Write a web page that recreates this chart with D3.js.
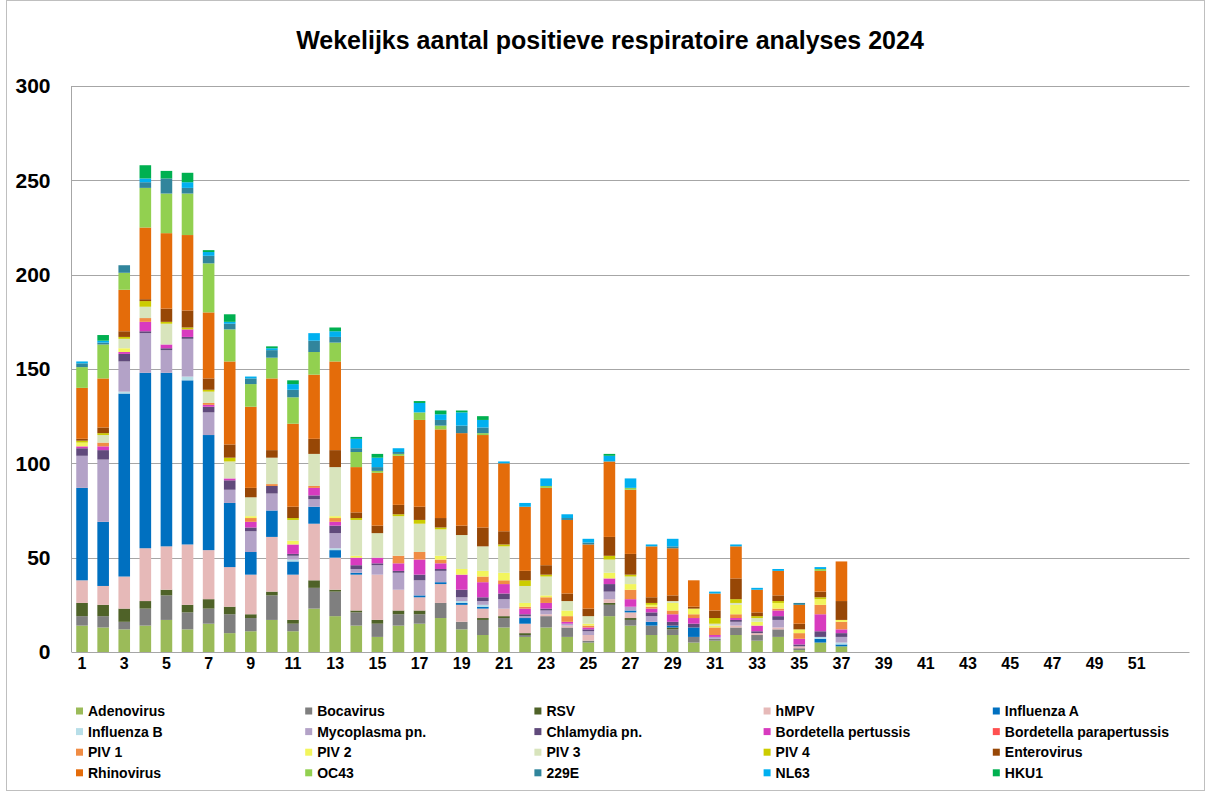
<!DOCTYPE html>
<html>
<head>
<meta charset="utf-8">
<script src="https://cdn.jsdelivr.net/npm/d3@7"></script>
<style>
  body { margin: 0; background: #fff; }
  svg text { font-family: "Liberation Sans", Arial, sans-serif; font-weight: bold; fill: #000; }
</style>
</head>
<body>
<div id="chart"></div>
<script>
// weeks 1..53 on the axis, data only up to week 37
const weeks = d3.range(1, 54);
const tickWeeks = d3.range(1, 52, 2);
const yTicks = [0, 50, 100, 150, 200, 250, 300];

const series = ["Adenovirus", "Bocavirus", "RSV", "hMPV", "Influenza A",
  "Influenza B", "Mycoplasma pn.", "Chlamydia pn.", "Bordetella pertussis", "Bordetella parapertussis",
  "PIV 1", "PIV 2", "PIV 3", "PIV 4", "Enterovirus",
  "Rhinovirus", "OC43", "229E", "NL63", "HKU1"];

const colors = ["#9bbb59", "#7f7f7f", "#4f6228", "#e6b9b8", "#0070c0",
  "#b7dee8", "#b3a2c7", "#604a7b", "#d83bbf", "#ff5050",
  "#f08c44", "#f2f55c", "#d8e4bc", "#cccc00", "#974706",
  "#e46c0a", "#92d050", "#31859c", "#00b0f0", "#00b050"];

// weekly counts, week 1 .. 37
const adeno   = [14,13,12,14,17,12,15,10,11,17,11,23,19,14,8,14,15,18,12,9,13,8,13,8,5,19,14,9,9,5,6,9,6,8,1,5,3];
const boca    = [5,6,4,9,13,9,8,10,7,13,4,11,13,7,7,6,5,8,4,8,5,1,6,5,1,6,3,5,3,3,1,4,3,4,1,0,0];
const rsv     = [7,6,7,4,3,4,5,4,2,2,2,4,1,1,2,2,2,0,0,1,1,1,0,0,0,1,1,0,1,0,0,0,0,0,0,0,0];
const hmpv    = [12,10,17,28,23,32,26,21,21,29,24,30,17,19,24,11,7,10,9,5,4,5,1,1,3,2,3,0,0,0,0,1,1,1,1,0,0];
const infA    = [49,34,97,93,92,87,61,34,12,14,7,9,4,1,0,0,1,1,1,1,0,3,0,0,0,0,1,2,1,5,0,0,0,0,0,2,1];
const infB    = [0,0,1,0,0,2,0,0,0,0,1,0,1,0,0,0,0,0,1,1,0,0,0,0,0,0,0,0,0,0,0,0,0,0,0,1,1];
const myco    = [17,33,16,21,12,20,12,7,11,9,2,4,8,2,5,9,8,6,2,2,5,1,2,1,2,4,2,3,0,0,1,2,0,4,0,0,3];
const chlam   = [4,5,4,1,1,1,3,5,2,4,1,2,4,2,1,1,3,1,4,2,3,1,1,0,1,4,0,2,2,2,0,1,1,2,1,3,2];
const bpert   = [1,2,1,5,2,4,1,1,3,0,5,4,2,4,3,4,8,3,8,8,5,3,3,1,1,3,4,2,4,3,1,1,3,3,3,9,2];
const bpara   = [0,0,0,0,0,0,0,0,0,0,0,0,0,0,0,0,0,0,0,0,0,0,0,0,0,0,0,0,0,0,0,0,0,0,0,0,0];
const piv1    = [0,2,0,2,0,0,1,0,2,1,0,1,2,0,0,4,4,2,0,3,2,1,3,3,1,0,5,1,2,2,4,2,0,1,3,5,4];
const piv2    = [2,0,2,0,0,0,0,0,1,0,2,0,1,1,0,0,0,2,3,3,4,2,1,3,1,3,3,1,4,3,1,5,2,3,2,3,1];
const piv3    = [0,4,5,6,11,0,6,9,10,14,11,17,26,19,13,21,15,14,18,13,14,9,10,5,4,7,4,0,1,0,1,1,2,0,0,0,0];
const piv4    = [1,1,1,3,1,1,1,2,0,0,1,0,0,1,0,1,2,1,0,0,1,3,1,0,0,2,1,1,0,0,3,2,1,1,0,1,0];
const entero  = [1,3,3,1,7,9,6,7,5,4,6,8,9,3,4,5,7,5,5,10,7,5,5,4,4,10,11,3,3,1,4,11,2,3,3,3,10];
const rhino   = [27,26,22,38,40,40,35,44,43,38,44,34,47,24,28,26,46,47,49,49,36,34,41,39,34,40,34,27,25,14,9,17,12,13,10,11,21];
const oc43    = [11,18,9,21,21,22,26,17,12,11,14,12,10,8,1,1,4,2,0,1,0,0,1,0,0,0,1,0,0,0,0,0,0,0,0,1,0];
const e229    = [2,1,4,3,8,3,4,3,3,4,4,6,3,2,2,1,0,3,4,3,0,0,0,1,1,0,0,0,1,0,0,0,0,0,1,0,0];
const nl63    = [1,1,0,2,0,3,2,1,1,1,3,4,3,5,5,2,5,3,7,4,1,2,4,2,2,3,5,1,4,0,1,1,1,1,0,1,0];
const hku1    = [0,3,0,7,4,5,1,4,0,1,2,0,2,1,2,0,1,2,1,2,0,0,0,0,0,1,0,0,0,0,0,0,0,0,0,0,0];

const values = [adeno, boca, rsv, hmpv, infA, infB, myco, chlam, bpert, bpara,
  piv1, piv2, piv3, piv4, entero, rhino, oc43, e229, nl63, hku1];

// one row per week for d3.stack
const table = adeno.map((_, i) => {
  let row = { week: i + 1 };
  series.forEach((s, j) => { row[s] = values[j][i]; });
  return row;
});

const width = 1206, height = 792;
const margin = { left: 71.5, right: 16.5, top: 86, bottom: 138 };

const svg = d3.select("#chart").append("svg")
  .attr("width", width)
  .attr("height", height);

// outer chart border
svg.append("rect")
  .attr("x", 6.5).attr("y", 0.5)
  .attr("width", 1198).attr("height", 790)
  .attr("fill", "none").attr("stroke", "#bfbfbf");

svg.append("text")
  .attr("x", 610).attr("y", 40)
  .attr("text-anchor", "middle")
  .attr("dominant-baseline", "central")
  .style("font-size", "25px")
  .text("Wekelijks aantal positieve respiratoire analyses 2024");

const x = d3.scaleBand()
  .domain(weeks)
  .range([margin.left, width - margin.right])
  .paddingInner(0.45)
  .paddingOuter(0.225);

const y = d3.scaleLinear()
  .domain([0, 300])
  .range([height - margin.bottom - 2, margin.top]);

// gridlines
svg.append("g")
  .selectAll("line")
  .data(yTicks)
  .join("line")
  .attr("x1", margin.left).attr("x2", width - margin.right)
  .attr("y1", d => Math.round(y(d)) + 0.5).attr("y2", d => Math.round(y(d)) + 0.5)
  .attr("stroke", "#a6a6a6");

// y axis line
svg.append("line")
  .attr("x1", margin.left).attr("x2", margin.left)
  .attr("y1", y(300)).attr("y2", y(0))
  .attr("stroke", "#a6a6a6");

const yAxis = d3.axisLeft(y).tickValues(yTicks).tickSize(0).tickPadding(21);
svg.append("g")
  .attr("transform", `translate(${margin.left},0)`)
  .call(yAxis)
  .call(g => g.select(".domain").remove())
  .selectAll("text")
  .style("font-size", "21px");

const xAxis = d3.axisBottom(x)
  .tickValues(tickWeeks)
  .tickSize(0)
  .tickPadding(6);
svg.append("g")
  .attr("transform", `translate(0,${y(0)})`)
  .call(xAxis)
  .call(g => g.select(".domain").remove())
  .selectAll("text")
  .style("font-size", "16px");

// stacked bars
const stacked = d3.stack().keys(series)(table);

svg.append("g")
  .selectAll("g")
  .data(stacked)
  .join("g")
  .attr("fill", (d, i) => colors[i])
  .selectAll("rect")
  .data(d => d.filter(p => p[1] > p[0]))
  .join("rect")
  .attr("x", d => x(d.data.week))
  .attr("width", x.bandwidth())
  .attr("y", d => y(d[1]))
  .attr("height", d => y(d[0]) - y(d[1]));

// legend, 5 columns x 4 rows
const legendCol = 229.2, legendRow = 20.6;
const legend = svg.append("g")
  .selectAll("g")
  .data(series)
  .join("g")
  .attr("transform", (d, i) => `translate(${76 + (i % 5) * legendCol},${711 + Math.floor(i / 5) * legendRow})`);

legend.append("rect")
  .attr("x", 0).attr("y", -3.5)
  .attr("width", 7).attr("height", 7)
  .attr("fill", (d, i) => colors[i]);

legend.append("text")
  .attr("x", 12)
  .attr("dominant-baseline", "central")
  .style("font-size", "14px")
  .text(d => d);
</script>
</body>
</html>
